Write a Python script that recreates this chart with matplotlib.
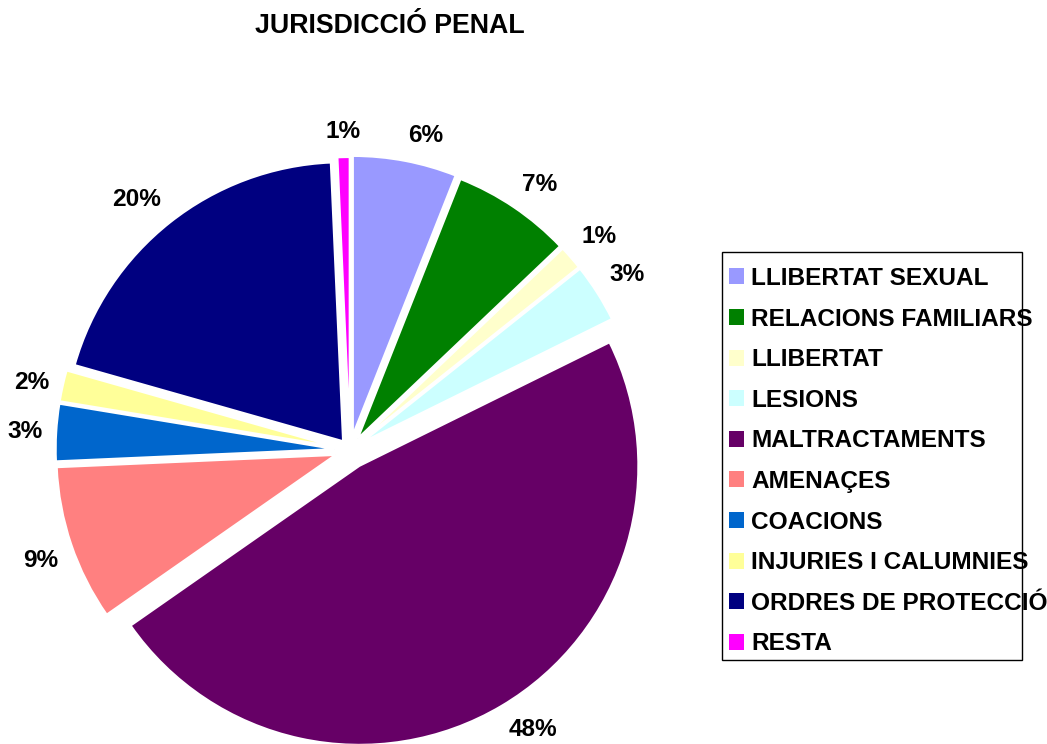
import matplotlib
matplotlib.use("Agg")
import matplotlib.pyplot as plt
from matplotlib.patches import Rectangle

plt.rcParams['font.family'] = ['Liberation Sans', 'DejaVu Sans']

title = "JURISDICCIÓ PENAL"
categories = ["LLIBERTAT SEXUAL", "RELACIONS FAMILIARS", "LLIBERTAT", "LESIONS",
              "MALTRACTAMENTS", "AMENAÇES", "COACIONS", "INJURIES I CALUMNIES",
              "ORDRES DE PROTECCIÓ", "RESTA"]
values = [6.0, 6.9, 1.4, 3.4, 47.6, 9.0, 3.3, 1.8, 19.9, 0.7]
colors = ["#9999FF", "#008000", "#FFFFCC", "#CCFFFF", "#660066",
          "#FF8080", "#0066CC", "#FFFF99", "#000080", "#FF00FF"]
explode = [0.055, 0.05, 0.05, 0.05, 0.066, 0.055, 0.055, 0.055, 0.04, 0.05]

W, H = 1047, 744
fig = plt.figure(figsize=(W / 100, H / 100), dpi=100)

# pie axes: centre at (350, 450) px, radius 279 px
R = 279.0
L = 1.3
cx, cy = 350, 450
side = 2 * L * R
ax = fig.add_axes([(cx - side / 2) / W, (H - cy - side / 2) / H, side / W, side / H])

wedges, texts, autotexts = ax.pie(
    values, colors=colors, explode=explode, startangle=90, counterclock=False,
    autopct='%.0f%%', pctdistance=1.05,
    wedgeprops=dict(edgecolor='white', linewidth=1.5),
    textprops=dict(fontsize=17.6, fontweight='bold', color='black'))
# outside-end style: the label box sits outside its anchor point
for t in autotexts:
    x, y = t.get_position()
    t.set_ha('left' if x > 0.1 else ('right' if x < -0.1 else 'center'))
    t.set_va('bottom' if y > 0.3 else ('top' if y < -0.3 else 'center'))
ax.set_xlim(-L, L)
ax.set_ylim(-L, L)
ax.set_aspect('equal')
ax.axis('off')

fig.text(390 / W, 1 - 26 / H, title, ha='center', va='center',
         fontsize=19.3, fontweight='bold')

# legend box
fig.patches.append(Rectangle((722 / W, 1 - 660 / H), 300 / W, 408 / H,
                             transform=fig.transFigure, fill=False,
                             edgecolor='black', linewidth=1.0, zorder=0))

leg = fig.legend(wedges, categories, loc='upper left',
                 bbox_to_anchor=(729 / W, 1 - 267 / H),
                 frameon=False, borderpad=0, borderaxespad=0,
                 handlelength=0.62, handleheight=0.62, handletextpad=0.3,
                 labelspacing=0.72,
                 prop=dict(size=17.6, weight='bold'))
for h in leg.legend_handles:
    h.set_edgecolor('none')
    h.set_linewidth(0)

fig.savefig("out.png", dpi=100)
